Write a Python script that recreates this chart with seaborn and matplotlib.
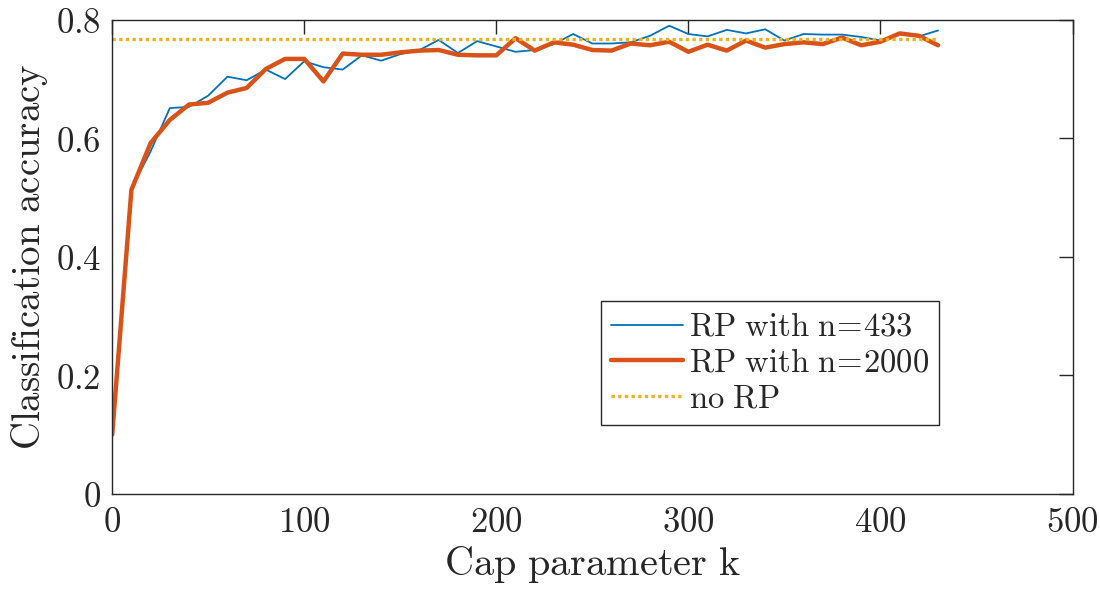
import numpy as np
import pandas as pd
import matplotlib
matplotlib.use('Agg')
import matplotlib.pyplot as plt
import matplotlib.ticker as mticker
import seaborn as sns

# Cap parameter k (eje x)
k_values = [0, 10, 20, 30, 40, 50, 60, 70, 80, 90,
            100, 110, 120, 130, 140, 150, 160, 170, 180, 190,
            200, 210, 220, 230, 240, 250, 260, 270, 280, 290,
            300, 310, 320, 330, 340, 350, 360, 370, 380, 390,
            400, 410, 420, 430]

# RP with n=433
acc_433 = [0.100, 0.515, 0.578, 0.651, 0.653, 0.672, 0.704, 0.698, 0.716, 0.700,
           0.730, 0.720, 0.716, 0.740, 0.731, 0.742, 0.749, 0.766, 0.744, 0.764,
           0.755, 0.746, 0.749, 0.759, 0.776, 0.760, 0.760, 0.762, 0.773, 0.790,
           0.776, 0.772, 0.783, 0.777, 0.784, 0.765, 0.776, 0.775, 0.775, 0.771,
           0.765, 0.777, 0.772, 0.782]

# RP with n=2000
acc_2000 = [0.100, 0.513, 0.592, 0.631, 0.657, 0.660, 0.677, 0.685, 0.717, 0.734,
            0.734, 0.696, 0.743, 0.741, 0.741, 0.745, 0.748, 0.749, 0.741, 0.740,
            0.740, 0.769, 0.748, 0.762, 0.758, 0.749, 0.748, 0.760, 0.757, 0.763,
            0.746, 0.758, 0.748, 0.765, 0.753, 0.759, 0.762, 0.759, 0.770, 0.757,
            0.763, 0.777, 0.773, 0.757]

# no RP (referencia constante)
acc_no_rp = 0.767

x_ticks = [0, 100, 200, 300, 400, 500]
y_ticks = [0, 0.2, 0.4, 0.6, 0.8]

df = pd.DataFrame({'k': k_values, 'n433': acc_433, 'n2000': acc_2000})
df['norp'] = acc_no_rp

sns.set_style('white')
plt.rcParams['mathtext.fontset'] = 'cm'
plt.rcParams['font.family'] = ['DejaVu Serif']

fig = plt.figure(figsize=(11, 6), dpi=100)
ax = fig.add_axes([0.102, 0.177, 0.873, 0.79])

sns.lineplot(data=df, x='k', y='n433', ax=ax, color='#0072BD', linewidth=1.3,
             label=r'$\mathrm{RP\ with\ n}\!=\!\mathrm{433}$')
sns.lineplot(data=df, x='k', y='n2000', ax=ax, color='#D95319', linewidth=3.2,
             label=r'$\mathrm{RP\ with\ n}\!=\!\mathrm{2000}$')
sns.lineplot(data=df, x='k', y='norp', ax=ax, color='#EDB120', linewidth=2.4,
             linestyle=(0, (1, 1)), label=r'$\mathrm{no\ RP}$')

ax.set_xlim(0, 500)
ax.set_ylim(0, 0.8)
ax.set_xticks(x_ticks)
ax.set_yticks(y_ticks)
ax.xaxis.set_major_formatter(mticker.FuncFormatter(lambda v, p: f'${v:g}$'))
ax.yaxis.set_major_formatter(mticker.FuncFormatter(lambda v, p: f'${v:g}$'))
ax.tick_params(direction='in', length=10, width=1, top=True, right=True,
               labelsize=25, colors='#262626', pad=8)

for s in ax.spines.values():
    s.set_color('#262626')
    s.set_linewidth(1)

ax.set_xlabel(r'$\mathrm{Cap\ parameter\ k}$', fontsize=29, color='#262626', labelpad=4)
ax.set_ylabel(r'$\mathrm{Classification\ accuracy}$', fontsize=28, color='#262626', labelpad=4)

leg = ax.legend(loc='lower right', bbox_to_anchor=(0.861, 0.146), fontsize=23.5,
                frameon=True, fancybox=False, edgecolor='#262626', framealpha=1,
                borderpad=0.3, labelspacing=0.12, handlelength=2.2,
                handletextpad=0.2, borderaxespad=0)
leg.get_frame().set_linewidth(1)

fig.savefig('out.png', dpi=100)
